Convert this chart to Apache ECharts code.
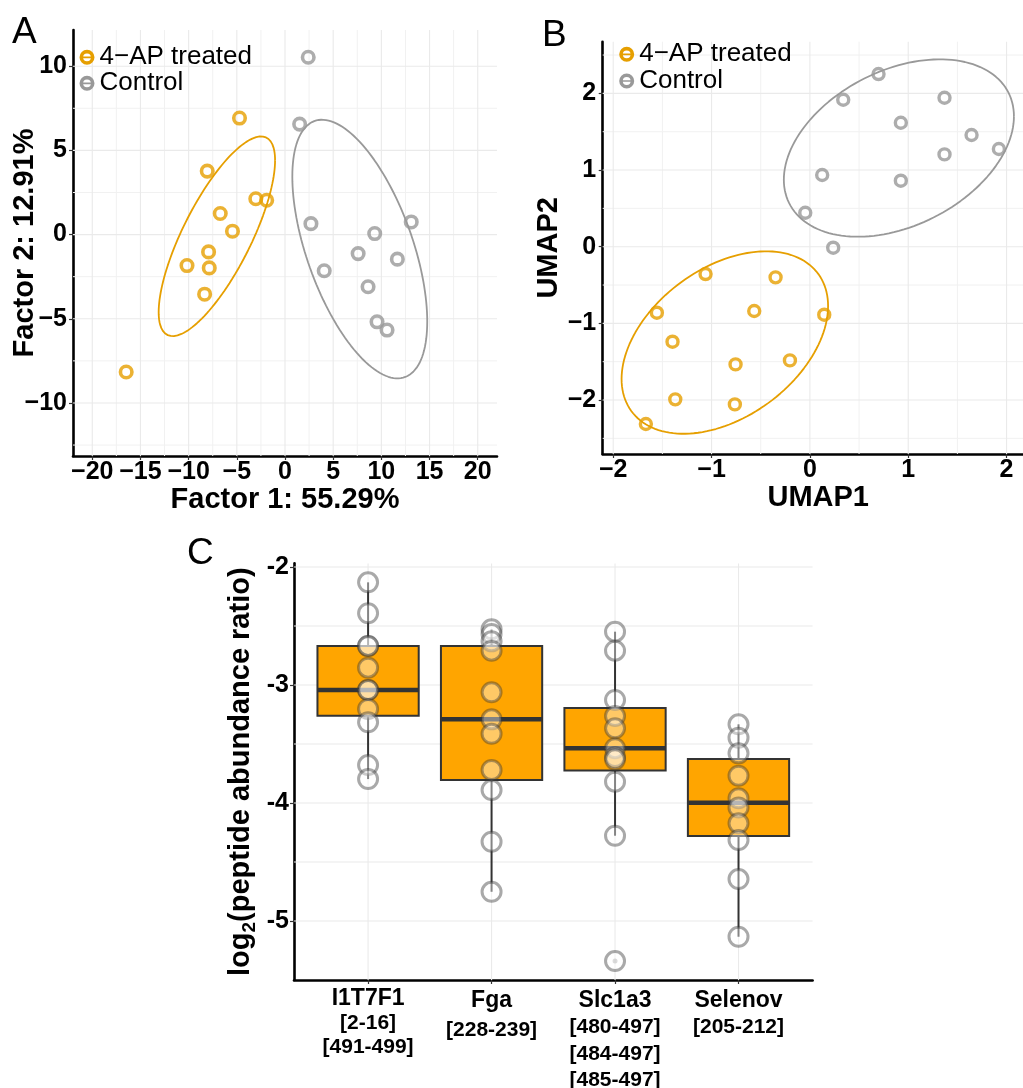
<!DOCTYPE html>
<html>
<head>
<meta charset="utf-8">
<script src="https://cdn.jsdelivr.net/npm/echarts@6/dist/echarts.min.js"></script>
<style>
html,body{margin:0;padding:0;background:#fff;}
#chart{width:1023px;height:1088px;}
</style>
</head>
<body>
<div id="chart"></div>
<script>
// ---------------- DATA ----------------
// Panel A (factor analysis)
const aTreatedX = [-4.72, -8.07, -3.03, -1.90, -6.72, -5.45, -7.93, -10.17, -7.86, -8.34, -16.48];
const aTreatedY = [6.92, 3.77, 2.13, 2.04, 1.25, 0.20, -1.03, -1.84, -1.98, -3.54, -8.16];
const aControlX = [2.41, 1.52, 2.69, 13.10, 9.31, 7.59, 11.66, 4.07, 8.62, 9.55, 10.59];
const aControlY = [10.53, 6.56, 0.65, 0.75, 0.06, -1.13, -1.46, -2.15, -3.10, -5.18, -5.67];
// ellipse parameters [centerX, centerY, halfExtentX, halfExtentY, correlation]
const aEllipseTreated = [-7.07, -0.10, 6.04, 5.93, 0.76];
const aEllipseControl = [7.76, -0.86, 7.00, 7.68, -0.56];

// Panel B (UMAP)
const bTreatedX = [-1.061, -0.349, -1.556, -0.566, 0.146, -1.397, -0.756, -0.203, -1.369, -0.763, -1.668];
const bTreatedY = [-0.357, -0.400, -0.861, -0.839, -0.887, -1.239, -1.535, -1.483, -1.991, -2.057, -2.313];
const bControlX = [0.698, 0.339, 1.369, 0.925, 1.644, 1.922, 1.369, 0.125, 0.925, -0.047, 0.237];
const bControlY = [2.252, 1.917, 1.943, 1.617, 1.457, 1.274, 1.204, 0.935, 0.861, 0.443, -0.013];
const bEllipseTreated = [-0.865, -1.25, 1.05, 1.19, 0.40];
const bEllipseControl = [0.905, 1.287, 1.17, 1.157, 0.357];

// Panel C (boxplots)
const cCategories = ['I1T7F1', 'Fga', 'Slc1a3', 'Selenov'];
const cPeptides = [['[2-16]', '[491-499]'], ['[228-239]'], ['[480-497]', '[484-497]', '[485-497]'], ['[205-212]']];
const i1t7f1Values = [-2.130, -2.392, -2.669, -2.669, -2.853, -3.042, -3.042, -3.203, -3.316, -3.678, -3.797];
const fgaValues = [-2.528, -2.568, -2.630, -2.709, -3.062, -3.291, -3.413, -3.720, -3.890, -4.328, -4.752];
const slc1a3Values = [-2.548, -2.709, -3.127, -3.263, -3.367, -3.535, -3.610, -3.630, -3.819, -4.277, -5.339];
const selenovValues = [-3.333, -3.447, -3.579, -3.769, -3.960, -4.037, -4.172, -4.314, -4.644, -5.133];

// tick values
const aXTicks = [-20, -15, -10, -5, 0, 5, 10, 15, 20];
const aXMinor = [-17.5, -12.5, -7.5, -2.5, 2.5, 7.5, 12.5, 17.5];
const aYTicks = [-10, -5, 0, 5, 10];
const aYMinor = [-12.5, -7.5, -2.5, 2.5, 7.5];
const bXTicks = [-2, -1, 0, 1, 2];
const bXMinor = [-1.5, -0.5, 0.5, 1.5];
const bYTicks = [-2, -1, 0, 1, 2];
const bYMinor = [-2.5, -1.5, -0.5, 0.5, 1.5, 2.5];
const cYTicks = [-5, -4, -3, -2];
const cYMinor = [-4.5, -3.5, -2.5];
const cXTicks = [1, 2, 3, 4];

// ---------------- HELPERS ----------------
const FONT = '"Liberation Sans", Arial, Helvetica, sans-serif';
const ORANGE = '#E69F00', GRAY = '#999999', BOXFILL = '#FFA500';
const GRID_MAJOR = '#EAEAEA', GRID_MINOR = '#F1F1F1';
const RING = 'path://M10,0 A10,10 0 1,1 10,20 A10,10 0 1,1 10,0 Z M10,4.8 A5.2,5.2 0 1,0 10,15.2 A5.2,5.2 0 1,0 10,4.8 Z M4.6,8.9 L15.4,8.9 L15.4,11.1 L4.6,11.1 Z';

function zip(xs, ys) { return xs.map((x, i) => [x, ys[i]]); }
function minusFmt(v) { return v < 0 ? '\u2212' + (-v) : String(v); }

function ellipsePoints(p) {
  const [cx, cy, sx, sy, r] = p;
  const s = Math.sqrt(1 - r * r);
  const pts = [];
  for (let k = 0; k <= 144; k++) {
    const t = k / 144 * 2 * Math.PI;
    pts.push([cx + sx * Math.cos(t), cy + sy * (r * Math.cos(t) + s * Math.sin(t))]);
  }
  return pts;
}

function gridLines(idx, values, dir, color, width) {
  return {
    type: 'custom', xAxisIndex: idx, yAxisIndex: idx, silent: true, z: 1,
    data: values.map(v => dir === 'v' ? [v, 0] : [0, v]),
    encode: { x: 0, y: 1 },
    renderItem: function (params, api) {
      const cs = params.coordSys;
      if (dir === 'v') {
        const x = api.coord([api.value(0), 0])[0];
        return { type: 'line', shape: { x1: x, y1: cs.y, x2: x, y2: cs.y + cs.height }, style: { stroke: color, lineWidth: width } };
      }
      const y = api.coord([0, api.value(1)])[1];
      return { type: 'line', shape: { x1: cs.x, y1: y, x2: cs.x + cs.width, y2: y }, style: { stroke: color, lineWidth: width } };
    }
  };
}

function quantile(sorted, p) {
  const h = (sorted.length - 1) * p;
  const lo = Math.floor(h);
  const hi = Math.min(lo + 1, sorted.length - 1);
  return sorted[lo] + (h - lo) * (sorted[hi] - sorted[lo]);
}
function boxStats(vals) {
  const s = vals.slice().sort((a, b) => a - b);
  const q1 = quantile(s, 0.25), med = quantile(s, 0.5), q3 = quantile(s, 0.75);
  const iqr = q3 - q1;
  const inside = s.filter(v => v >= q1 - 1.5 * iqr && v <= q3 + 1.5 * iqr);
  const outl = s.filter(v => v < q1 - 1.5 * iqr || v > q3 + 1.5 * iqr);
  return { lo: inside[0], q1: q1, med: med, q3: q3, hi: inside[inside.length - 1], out: outl };
}

const cGroups = [i1t7f1Values, fgaValues, slc1a3Values, selenovValues];
const cStats = cGroups.map(boxStats);
const boxData = cStats.map((st, i) => [i + 1, st.lo, st.q1, st.med, st.q3, st.hi]);
const pointData = [];
cGroups.forEach((g, i) => g.forEach(v => pointData.push([i + 1, v])));
const outlierData = [];
cStats.forEach((st, i) => st.out.forEach(v => outlierData.push([i + 1, v])));

// ---------------- AXES ----------------
function valueAxis(opts) {
  return Object.assign({
    type: 'value',
    axisLine: { show: true, onZero: false, lineStyle: { color: '#000', width: 2.6 } },
    axisTick: { show: true, length: 4, lineStyle: { color: '#333', width: 1.2 }, customValues: opts.ticks },
    axisLabel: {
      customValues: opts.ticks, color: '#000', fontSize: opts.fontSize || 25, fontWeight: 'bold', fontFamily: FONT,
      margin: opts.margin, formatter: opts.formatter || minusFmt
    },
    splitLine: { show: false },
    nameLocation: 'middle',
    nameMoveOverlap: false,
    nameTextStyle: { fontSize: 29, fontWeight: 'bold', color: '#000', fontFamily: FONT }
  }, opts.extra);
}

const xLabelRich = {
  n0: { fontSize: 23, fontWeight: 'bold', lineHeight: 24, color: '#000', fontFamily: FONT },
  p0: { fontSize: 21, fontWeight: 'bold', lineHeight: 24, color: '#000', fontFamily: FONT },
  n1: { fontSize: 23, fontWeight: 'bold', lineHeight: 27, color: '#000', fontFamily: FONT },
  p1: { fontSize: 21, fontWeight: 'bold', lineHeight: 32, color: '#000', fontFamily: FONT },
  n2: { fontSize: 23, fontWeight: 'bold', lineHeight: 27, color: '#000', fontFamily: FONT },
  p2: { fontSize: 21, fontWeight: 'bold', lineHeight: 26.5, color: '#000', fontFamily: FONT },
  n3: { fontSize: 23, fontWeight: 'bold', lineHeight: 27, color: '#000', fontFamily: FONT },
  p3: { fontSize: 21, fontWeight: 'bold', lineHeight: 26, color: '#000', fontFamily: FONT }
};

const option = {
  animation: false,
  backgroundColor: '#ffffff',
  textStyle: { fontFamily: FONT },
  grid: [
    { left: 73, top: 30, width: 424, height: 426, outerBoundsMode: 'none', containLabel: false },
    { left: 602.7, top: 41.7, width: 431, height: 412.3, outerBoundsMode: 'none', containLabel: false },
    { left: 294, top: 563.4, width: 518.6, height: 416.6, outerBoundsMode: 'none', containLabel: false }
  ],
  xAxis: [
    valueAxis({ ticks: aXTicks, margin: 4, extra: { gridIndex: 0, min: -22, max: 22, name: 'Factor 1: 55.29%', nameGap: 29 } }),
    valueAxis({ ticks: bXTicks, margin: 4, extra: { gridIndex: 1, min: -2.107, max: 2.276, name: 'UMAP1', nameGap: 29 } }),
    valueAxis({
      ticks: cXTicks, margin: 7,
      formatter: function (v) {
        const i = Math.round(v) - 1;
        let s = '{n' + i + '|' + cCategories[i] + '}';
        cPeptides[i].forEach(p => { s += '\n{p' + i + '|' + p + '}'; });
        return s;
      },
      extra: { gridIndex: 2, min: 0.4, max: 4.6 }
    })
  ],
  yAxis: [
    valueAxis({ ticks: aYTicks, margin: 6, extra: { gridIndex: 0, min: -13.15, max: 12.15, name: 'Factor 2: 12.91%', nameGap: 33.5 } }),
    valueAxis({ ticks: bYTicks, margin: 6.5, extra: { gridIndex: 1, min: -2.704, max: 2.674, name: 'UMAP2', nameGap: 39 } }),
    valueAxis({
      ticks: cYTicks, margin: 5, fontSize: 25, formatter: v => String(v),
      extra: {
        gridIndex: 2, min: -5.4995, max: -1.9695,
        name: '{a|log}{s|2}{a|(peptide abundance ratio)}', nameGap: 35,
        nameTextStyle: {
          fontFamily: FONT,
          rich: {
            a: { fontSize: 29, fontWeight: 'bold', color: '#000', lineHeight: 36, fontFamily: FONT },
            s: { fontSize: 19, fontWeight: 'bold', color: '#000', verticalAlign: 'bottom', fontFamily: FONT }
          }
        }
      }
    })
  ],
  legend: [
    {
      left: 79.5, top: 44.3, orient: 'vertical', padding: 0, itemGap: 0, itemWidth: 15, itemHeight: 15,
      selectedMode: false, textStyle: { fontSize: 26, color: '#000', fontFamily: FONT },
      data: [
        { name: '4\u2212AP treated', icon: RING, itemStyle: { color: ORANGE, borderWidth: 0 } },
        { name: 'Control', icon: RING, itemStyle: { color: GRAY, borderWidth: 0 } }
      ]
    },
    {
      left: 619.2, top: 41.3, orient: 'vertical', padding: 0, itemGap: 0.7, itemWidth: 15, itemHeight: 15,
      selectedMode: false, textStyle: { fontSize: 26, color: '#000', fontFamily: FONT },
      data: [
        { name: '4\u2212AP treated', icon: RING, itemStyle: { color: ORANGE, borderWidth: 0 } },
        { name: 'Control', icon: RING, itemStyle: { color: GRAY, borderWidth: 0 } }
      ]
    }
  ],
  graphic: [
    { type: 'text', left: 12, top: 14, style: { text: 'A', font: '37px ' + FONT, fill: '#000' } },
    { type: 'text', left: 542, top: 17, style: { text: 'B', font: '37px ' + FONT, fill: '#000' } },
    { type: 'text', left: 187, top: 535, style: { text: 'C', font: '37px ' + FONT, fill: '#000' } }
  ],
  series: [
    // grid lines
    gridLines(0, aXMinor, 'v', GRID_MINOR, 1), gridLines(0, aYMinor, 'h', GRID_MINOR, 1),
    gridLines(0, aXTicks, 'v', GRID_MAJOR, 1.1), gridLines(0, aYTicks, 'h', GRID_MAJOR, 1.1),
    gridLines(1, bXMinor, 'v', GRID_MINOR, 1), gridLines(1, bYMinor, 'h', GRID_MINOR, 1),
    gridLines(1, bXTicks, 'v', GRID_MAJOR, 1.1), gridLines(1, bYTicks, 'h', GRID_MAJOR, 1.1),
    gridLines(2, cYMinor, 'h', GRID_MAJOR, 1.1), gridLines(2, cYTicks, 'h', GRID_MAJOR, 1.1),
    gridLines(2, cXTicks, 'v', GRID_MAJOR, 1.1),
    // panel A ellipses & points
    { type: 'line', name: '4\u2212AP treated', xAxisIndex: 0, yAxisIndex: 0, data: ellipsePoints(aEllipseTreated), showSymbol: false, symbol: 'none', silent: true, z: 2, lineStyle: { color: ORANGE, width: 1.8 }, itemStyle: { color: ORANGE } },
    { type: 'line', name: 'Control', xAxisIndex: 0, yAxisIndex: 0, data: ellipsePoints(aEllipseControl), showSymbol: false, symbol: 'none', silent: true, z: 2, lineStyle: { color: GRAY, width: 1.8 }, itemStyle: { color: GRAY } },
    { type: 'scatter', name: '4\u2212AP treated', xAxisIndex: 0, yAxisIndex: 0, data: zip(aTreatedX, aTreatedY), symbol: 'circle', symbolSize: 11.5, silent: true, z: 3, itemStyle: { color: 'rgba(255,255,255,0)', borderColor: ORANGE, borderWidth: 3.6 } },
    { type: 'scatter', name: 'Control', xAxisIndex: 0, yAxisIndex: 0, data: zip(aControlX, aControlY), symbol: 'circle', symbolSize: 11.5, silent: true, z: 3, itemStyle: { color: 'rgba(255,255,255,0)', borderColor: GRAY, borderWidth: 3.6 } },
    // panel B
    { type: 'line', name: '4\u2212AP treated', xAxisIndex: 1, yAxisIndex: 1, data: ellipsePoints(bEllipseTreated), showSymbol: false, symbol: 'none', silent: true, z: 2, lineStyle: { color: ORANGE, width: 1.8 }, itemStyle: { color: ORANGE } },
    { type: 'line', name: 'Control', xAxisIndex: 1, yAxisIndex: 1, data: ellipsePoints(bEllipseControl), showSymbol: false, symbol: 'none', silent: true, z: 2, lineStyle: { color: GRAY, width: 1.8 }, itemStyle: { color: GRAY } },
    { type: 'scatter', name: '4\u2212AP treated', xAxisIndex: 1, yAxisIndex: 1, data: zip(bTreatedX, bTreatedY), symbol: 'circle', symbolSize: 11, silent: true, z: 3, itemStyle: { color: 'rgba(255,255,255,0)', borderColor: ORANGE, borderWidth: 3.4 } },
    { type: 'scatter', name: 'Control', xAxisIndex: 1, yAxisIndex: 1, data: zip(bControlX, bControlY), symbol: 'circle', symbolSize: 11, silent: true, z: 3, itemStyle: { color: 'rgba(255,255,255,0)', borderColor: GRAY, borderWidth: 3.4 } },
    // panel C boxes
    {
      type: 'custom', xAxisIndex: 2, yAxisIndex: 2, silent: true, z: 2,
      data: boxData, encode: { x: 0, y: [1, 2, 3, 4, 5] },
      renderItem: function (params, api) {
        const x = api.value(0);
        const pLo = api.coord([x, api.value(1)]);
        const pQ1 = api.coord([x, api.value(2)]);
        const pMed = api.coord([x, api.value(3)]);
        const pQ3 = api.coord([x, api.value(4)]);
        const pHi = api.coord([x, api.value(5)]);
        const hw = api.size([0.82, 0])[0] / 2;
        const dark = '#333333';
        return {
          type: 'group',
          children: [
            { type: 'line', shape: { x1: pHi[0], y1: pHi[1], x2: pQ3[0], y2: pQ3[1] }, style: { stroke: dark, lineWidth: 2 } },
            { type: 'line', shape: { x1: pQ1[0], y1: pQ1[1], x2: pLo[0], y2: pLo[1] }, style: { stroke: dark, lineWidth: 2 } },
            { type: 'rect', shape: { x: pQ3[0] - hw, y: pQ3[1], width: 2 * hw, height: pQ1[1] - pQ3[1] }, style: { fill: BOXFILL, stroke: dark, lineWidth: 2 } },
            { type: 'line', shape: { x1: pMed[0] - hw, y1: pMed[1], x2: pMed[0] + hw, y2: pMed[1] }, style: { stroke: dark, lineWidth: 4.5 } }
          ]
        };
      }
    },
    { type: 'scatter', xAxisIndex: 2, yAxisIndex: 2, data: outlierData, symbol: 'circle', symbolSize: 5, silent: true, z: 3, itemStyle: { color: 'rgba(90,90,90,0.45)' } },
    { type: 'scatter', xAxisIndex: 2, yAxisIndex: 2, data: pointData, symbol: 'circle', symbolSize: 19, silent: true, z: 4, itemStyle: { color: 'rgba(255,255,255,0.5)', borderColor: 'rgba(60,60,60,0.55)', borderWidth: 3 } }
  ]
};
option.xAxis[2].axisLabel.rich = xLabelRich;

const chart = echarts.init(document.getElementById('chart'), null, { renderer: 'canvas' });
chart.setOption(option);
</script>
</body>
</html>
